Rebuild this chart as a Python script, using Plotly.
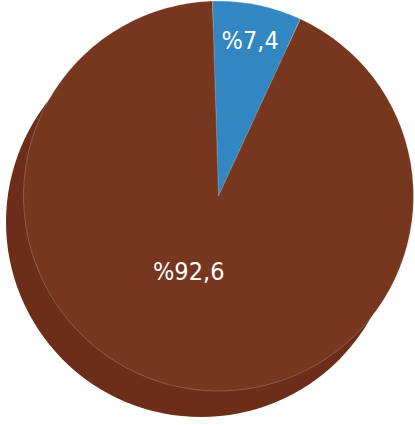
import plotly.graph_objects as go

categories = ["A", "B"]
values = [7.4, 92.6]
colors = ["#3286c2", "#77361e"]
shadow_color = "#6c2d19"

W, H = 415, 425
labels_text = ["%" + f"{v:.1f}".replace(".", ",") for v in values]

def dom(cx, cy, r):
    return dict(x=[(cx - r) / W, (cx + r) / W], y=[(H - cy - r) / H, (H - cy + r) / H])

fig = go.Figure()
# shadow / extrusion
fig.add_trace(go.Pie(
    labels=["shadow"], values=[sum(values)],
    marker=dict(colors=[shadow_color], line=dict(width=0)),
    textinfo="none", hoverinfo="skip", sort=False,
    domain=dom(201, 222, 195), showlegend=False,
))
fig.add_trace(go.Pie(
    labels=categories, values=values, text=[labels_text[0], ""], textinfo="text",
    textposition="inside", insidetextorientation="horizontal",
    marker=dict(colors=colors, line=dict(width=0.5, color="rgba(255,255,255,0.4)")),
    sort=False, direction="clockwise", rotation=-1.8,
    textfont=dict(family="DejaVu Sans Condensed", size=25, color="white"),
    domain=dom(218.5, 196, 195), showlegend=False,
))
fig.add_annotation(x=188 / W, y=(H - 271) / H, xref="paper", yref="paper",
                   text=labels_text[1], showarrow=False,
                   font=dict(family="DejaVu Sans Condensed", size=25, color="white"))
fig.update_layout(width=W, height=H, margin=dict(l=0, r=0, t=0, b=0),
                  paper_bgcolor="white", plot_bgcolor="white",
                  uniformtext=dict(minsize=8, mode="show"))
fig.write_html("out.html", config={"displayModeBar": False},
               post_script="document.body.style.margin='0';document.body.style.overflow='hidden';")
